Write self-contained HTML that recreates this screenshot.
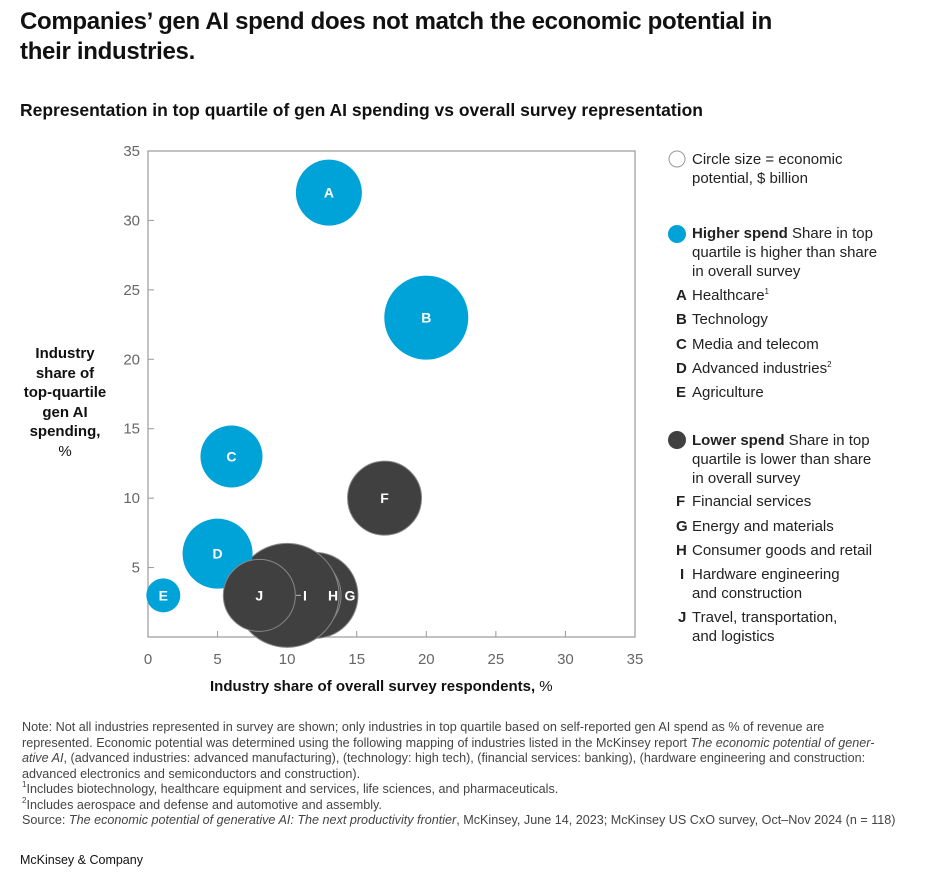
<!DOCTYPE html>
<html><head><meta charset="utf-8"><style>
body{margin:0;width:930px;height:884px;background:#fff;font-family:"Liberation Sans",sans-serif;color:#111;position:relative;overflow:hidden}
.abs{position:absolute}
h1{position:absolute;left:20px;top:7px;margin:0;font-size:24px;line-height:30px;font-weight:bold;letter-spacing:-0.3px}
h2{position:absolute;left:20px;top:100px;margin:0;font-size:17.5px;font-weight:bold}
.leg,.lt{position:absolute;font-size:15px;line-height:19px;color:#222}
.leg{left:692px}
.lt{left:676px;font-weight:bold}
sup{font-size:8px;line-height:0;position:relative;top:-6px;vertical-align:baseline}
.notes{position:absolute;left:22px;top:720px;font-size:12.6px;line-height:15.5px;color:#444;white-space:nowrap}
</style></head><body>
<h1>Companies’ gen AI spend does not match the economic potential in<br>their industries.</h1>
<h2>Representation in top quartile of gen AI spending vs overall survey representation</h2>
<div class="abs" style="left:10px;top:344px;width:110px;text-align:center;font-size:15px;font-weight:bold;line-height:19.5px">Industry<br>share of<br>top-quartile<br>gen AI<br>spending,<br><span style="font-weight:normal">%</span></div>
<div class="abs" style="left:210px;top:678px;font-size:15px;font-weight:bold">Industry share of overall survey respondents, <span style="font-weight:normal">%</span></div>
<svg class="abs" style="left:0;top:0" width="930" height="700" id="chart"></svg>
<div>
<svg class="abs" style="left:668px;top:150px" width="20" height="20"><circle cx="9" cy="9" r="8" fill="#fff" stroke="#999"/></svg>
<div class="leg" style="top:150px">Circle size = economic<br>potential, $ billion</div>
<svg class="abs" style="left:668px;top:225px" width="20" height="20"><circle cx="9" cy="9" r="9" fill="#00a3d8"/></svg>
<div class="leg" style="top:224px"><b>Higher spend</b> Share in top<br>quartile is higher than share<br>in overall survey</div>
<div class="lt" style="top:286px">A</div><div class="leg" style="top:286px">Healthcare<sup>1</sup></div>
<div class="lt" style="top:310px">B</div><div class="leg" style="top:310px">Technology</div>
<div class="lt" style="top:335px">C</div><div class="leg" style="top:335px">Media and telecom</div>
<div class="lt" style="top:359px">D</div><div class="leg" style="top:359px">Advanced industries<sup>2</sup></div>
<div class="lt" style="top:383px">E</div><div class="leg" style="top:383px">Agriculture</div>
<svg class="abs" style="left:668px;top:431px" width="20" height="20"><circle cx="9" cy="9" r="9" fill="#404040"/></svg>
<div class="leg" style="top:431px"><b>Lower spend</b> Share in top<br>quartile is lower than share<br>in overall survey</div>
<div class="lt" style="top:492px">F</div><div class="leg" style="top:492px">Financial services</div>
<div class="lt" style="top:517px">G</div><div class="leg" style="top:517px">Energy and materials</div>
<div class="lt" style="top:541px">H</div><div class="leg" style="top:541px">Consumer goods and retail</div>
<div class="lt" style="top:565px;left:680px">I</div><div class="leg" style="top:565px">Hardware engineering<br>and construction</div>
<div class="lt" style="top:608px;left:678px">J</div><div class="leg" style="top:608px">Travel, transportation,<br>and logistics</div>
</div>
<div class="notes">Note: Not all industries represented in survey are shown; only industries in top quartile based on self-reported gen AI spend as % of revenue are<br>represented. Economic potential was determined using the following mapping of industries listed in the McKinsey report <i>The economic potential of gener-</i><br><i>ative AI</i>, (advanced industries: advanced manufacturing), (technology: high tech), (financial services: banking), (hardware engineering and construction:<br>advanced electronics and semiconductors and construction).<br><sup>1</sup>Includes biotechnology, healthcare equipment and services, life sciences, and pharmaceuticals.<br><sup>2</sup>Includes aerospace and defense and automotive and assembly.<br>Source: <i>The economic potential of generative AI: The next productivity frontier</i>, McKinsey, June 14, 2023; McKinsey US CxO survey, Oct–Nov 2024 (n = 118)</div>
<div class="abs" style="left:20px;top:853px;font-size:12.5px">McKinsey &amp; Company</div>
<script>
const labels=["G","H","I","A","B","C","D","E","F","J"];
const xVals=[12,11,10,13,20,6,5,1.1,17,8];
const yVals=[3,3,3,32,23,13,6,3,10,3];
const radii=[43,40,52,33,42,31,35,17,37,36];
const groups=["low","low","low","high","high","high","high","high","low","low"];
const ticks=[0,5,10,15,20,25,30,35];
const X0=148,X1=635,Y0=637,Y1=151;
const sx=v=>X0+(v/35)*(X1-X0), sy=v=>Y0-(v/35)*(Y0-Y1);
const NS="http://www.w3.org/2000/svg", svg=document.getElementById('chart');
function mk(t,a){const e=document.createElementNS(NS,t);for(const k in a)e.setAttribute(k,a[k]);svg.appendChild(e);return e;}
const frame=mk('rect',{x:X0,y:Y1,width:X1-X0,height:Y0-Y1,fill:'none',stroke:'#999','stroke-width':1.2});


ticks.forEach(t=>{
 const tx=mk('text',{x:sx(t),y:664,'text-anchor':'middle','font-size':15,fill:'#666'});tx.textContent=t;
 
 
 mk('line',{x1:sx(t),x2:sx(t),y1:Y0,y2:Y0-6,stroke:'#999'});
 if(t>0){const ty=mk('text',{x:X0-8,y:sy(t)+5,'text-anchor':'end','font-size':15,fill:'#666'});ty.textContent=t;
 
 
 mk('line',{x1:X0,x2:X0+6,y1:sy(t),y2:sy(t),stroke:'#999'});}
});
labels.forEach((l,i)=>{
 const c=mk('circle',{cx:sx(xVals[i]),cy:sy(yVals[i]),r:radii[i],fill:groups[i]=='high'?'#00a3d8':'#404040',stroke:groups[i]=='high'?'none':'#888','stroke-width':groups[i]=='high'?0:1});
 
 
});
const labelOffset={G:-8,H:-8,I:-8};
labels.forEach((l,i)=>{
 let x=sx(xVals[i]);
 if(l in labelOffset) x=sx(xVals[i])+radii[i]+labelOffset[l];
 if(l=="I") x=305;
 const t=mk('text',{x:x,y:sy(yVals[i])+5,'text-anchor':'middle','font-size':14,'font-weight':'bold',fill:'#fff'});t.textContent=l;
 
 
});
mk('line',{x1:296,x2:301,y1:sy(3),y2:sy(3),stroke:'#bbb'});
</script>
</body></html>
